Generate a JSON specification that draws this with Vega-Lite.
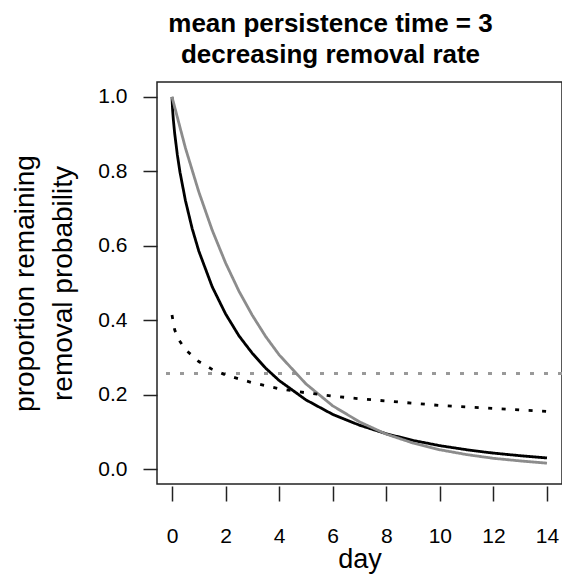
{
  "$schema": "https://vega.github.io/schema/vega-lite/v6.json",
  "width": 405,
  "height": 402,
  "autosize": {"type": "none"},
  "padding": {"left": 157, "top": 82, "right": 0, "bottom": 95},
  "background": "white",
  "title": {
    "text": ["mean persistence time = 3", "decreasing removal rate"],
    "font": "Liberation Sans",
    "fontSize": 26,
    "fontWeight": "bold",
    "lineHeight": 31,
    "color": "#000000",
    "anchor": "middle",
    "dx": -29,
    "offset": 14
  },
  "config": {
    "view": {"stroke": "#222222", "strokeWidth": 1.5},
    "axis": {
      "labelFont": "Liberation Sans",
      "titleFont": "Liberation Sans",
      "labelColor": "#000000",
      "titleColor": "#000000",
      "titleFontWeight": "normal",
      "labelFontSize": 21,
      "titleFontSize": 28,
      "tickColor": "#222222",
      "tickWidth": 1.5,
      "domain": false,
      "grid": false
    }
  },
  "data": {
    "values": [
      {"day": 0, "value": 1.0, "series": "decreasing"},
      {"day": 0.02, "value": 0.968, "series": "decreasing"},
      {"day": 0.05, "value": 0.939, "series": "decreasing"},
      {"day": 0.1, "value": 0.902, "series": "decreasing"},
      {"day": 0.2, "value": 0.844, "series": "decreasing"},
      {"day": 0.3, "value": 0.797, "series": "decreasing"},
      {"day": 0.5, "value": 0.722, "series": "decreasing"},
      {"day": 0.75, "value": 0.647, "series": "decreasing"},
      {"day": 1, "value": 0.586, "series": "decreasing"},
      {"day": 1.5, "value": 0.49, "series": "decreasing"},
      {"day": 2, "value": 0.417, "series": "decreasing"},
      {"day": 2.5, "value": 0.358, "series": "decreasing"},
      {"day": 3, "value": 0.311, "series": "decreasing"},
      {"day": 3.5, "value": 0.271, "series": "decreasing"},
      {"day": 4, "value": 0.238, "series": "decreasing"},
      {"day": 5, "value": 0.186, "series": "decreasing"},
      {"day": 6, "value": 0.147, "series": "decreasing"},
      {"day": 7, "value": 0.118, "series": "decreasing"},
      {"day": 8, "value": 0.095, "series": "decreasing"},
      {"day": 9, "value": 0.077, "series": "decreasing"},
      {"day": 10, "value": 0.063, "series": "decreasing"},
      {"day": 11, "value": 0.052, "series": "decreasing"},
      {"day": 12, "value": 0.043, "series": "decreasing"},
      {"day": 13, "value": 0.036, "series": "decreasing"},
      {"day": 14, "value": 0.03, "series": "decreasing"},
      {"day": 0, "value": 1.0, "series": "constant"},
      {"day": 0.5, "value": 0.863, "series": "constant"},
      {"day": 1, "value": 0.745, "series": "constant"},
      {"day": 1.5, "value": 0.642, "series": "constant"},
      {"day": 2, "value": 0.554, "series": "constant"},
      {"day": 2.5, "value": 0.478, "series": "constant"},
      {"day": 3, "value": 0.413, "series": "constant"},
      {"day": 3.5, "value": 0.356, "series": "constant"},
      {"day": 4, "value": 0.307, "series": "constant"},
      {"day": 5, "value": 0.229, "series": "constant"},
      {"day": 6, "value": 0.17, "series": "constant"},
      {"day": 7, "value": 0.127, "series": "constant"},
      {"day": 8, "value": 0.094, "series": "constant"},
      {"day": 9, "value": 0.07, "series": "constant"},
      {"day": 10, "value": 0.052, "series": "constant"},
      {"day": 11, "value": 0.039, "series": "constant"},
      {"day": 12, "value": 0.029, "series": "constant"},
      {"day": 13, "value": 0.022, "series": "constant"},
      {"day": 14, "value": 0.016, "series": "constant"},
      {"day": 0, "value": 0.414, "series": "removal"},
      {"day": 0.1, "value": 0.374, "series": "removal"},
      {"day": 0.25, "value": 0.348, "series": "removal"},
      {"day": 0.5, "value": 0.321, "series": "removal"},
      {"day": 1, "value": 0.289, "series": "removal"},
      {"day": 1.5, "value": 0.268, "series": "removal"},
      {"day": 2, "value": 0.253, "series": "removal"},
      {"day": 3, "value": 0.232, "series": "removal"},
      {"day": 4, "value": 0.216, "series": "removal"},
      {"day": 5, "value": 0.205, "series": "removal"},
      {"day": 6, "value": 0.196, "series": "removal"},
      {"day": 7, "value": 0.189, "series": "removal"},
      {"day": 8, "value": 0.183, "series": "removal"},
      {"day": 9, "value": 0.177, "series": "removal"},
      {"day": 10, "value": 0.171, "series": "removal"},
      {"day": 11, "value": 0.167, "series": "removal"},
      {"day": 12, "value": 0.163, "series": "removal"},
      {"day": 13, "value": 0.159, "series": "removal"},
      {"day": 14, "value": 0.155, "series": "removal"}
    ]
  },
  "layer": [
    {
      "mark": {"type": "rule", "color": "#999999", "strokeWidth": 2.5, "strokeDash": [4, 10]},
      "encoding": {"y": {"datum": 0.256, "type": "quantitative", "scale": {"domain": [-0.04, 1.04], "nice": false, "zero": false}}}
    },
    {
      "mark": {"type": "line", "strokeWidth": 2.8},
      "encoding": {
        "x": {
          "field": "day", "type": "quantitative",
          "scale": {"domain": [-0.56, 14.56], "nice": false, "zero": false},
          "axis": {"values": [0, 2, 4, 6, 8, 10, 12, 14], "tickSize": 15, "offset": 2, "labelPadding": 24, "title": "day", "titleFontSize": 27, "titlePadding": 0}
        },
        "y": {
          "field": "value", "type": "quantitative",
          "scale": {"domain": [-0.04, 1.04], "nice": false, "zero": false},
          "axis": {"values": [0, 0.2, 0.4, 0.6, 0.8, 1.0], "format": ".1f", "tickSize": 14, "labelPadding": 16, "title": ["proportion remaining", "removal probability"], "titlePadding": 20, "titleLineHeight": 38}
        },
        "color": {
          "field": "series", "type": "nominal",
          "scale": {"domain": ["constant", "decreasing", "removal"], "range": ["#8c8c8c", "#000000", "#000000"]},
          "legend": null
        },
        "strokeDash": {
          "field": "series", "type": "nominal",
          "scale": {"domain": ["constant", "decreasing", "removal"], "range": [[1, 0], [1, 0], [4, 9.5]]},
          "legend": null
        }
      }
    }
  ]
}
